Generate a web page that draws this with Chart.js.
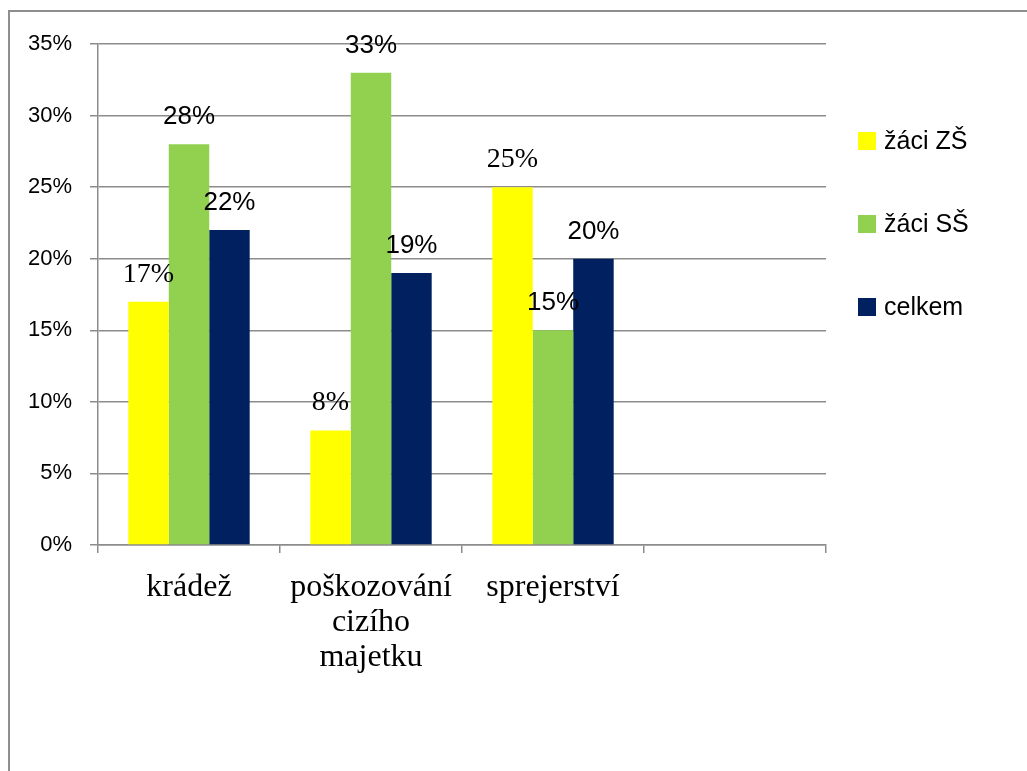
<!DOCTYPE html>
<html>
<head>
<meta charset="utf-8">
<script src="https://cdn.jsdelivr.net/npm/chart.js@4/dist/chart.umd.min.js"></script>
<style>
  html, body { margin: 0; padding: 0; background: #fff; overflow: hidden; }
  #wrap { position: relative; width: 1027px; height: 771px; }
  #frame { position: absolute; left: 8px; top: 10px; width: 1100px; height: 900px; border: 2px solid #8e8e8e; box-sizing: border-box; }
  canvas { position: absolute; left: 0; top: 0; }
</style>
</head>
<body>
<div id="wrap">
  <div id="frame"></div>
  <canvas id="c" width="1027" height="771"></canvas>
</div>
<script>
const categories = ['krádež', ['poškozování', 'cizího', 'majetku'], 'sprejerství', ''];
const seriesNames = ['žáci ZŠ', 'žáci SŠ', 'celkem'];
const zakiZS = [17, 8, 25, null];
const zakiSS = [28, 33, 15, null];
const celkem = [22, 19, 20, null];
const yTicks = [0, 5, 10, 15, 20, 25, 30, 35];

const colors = ['#FFFF00', '#92D050', '#002060'];
const labelFonts = ['28px "Liberation Serif"', '26px "Liberation Sans"', '26px "Liberation Sans"'];

const valueLabels = {
  id: 'valueLabels',
  afterDatasetsDraw(chart) {
    const ctx = chart.ctx;
    ctx.save();
    ctx.fillStyle = '#000';
    ctx.textAlign = 'center';
    ctx.textBaseline = 'alphabetic';
    chart.data.datasets.forEach((ds, i) => {
      const meta = chart.getDatasetMeta(i);
      ctx.font = labelFonts[i];
      meta.data.forEach((bar, j) => {
        const v = ds.data[j];
        if (v === null || v === undefined) return;
        ctx.fillText(v + '%', bar.x, bar.y - 20);
      });
    });
    ctx.restore();
  }
};

const sideLegend = {
  id: 'sideLegend',
  afterDraw(chart) {
    const ctx = chart.ctx;
    const area = chart.chartArea;
    ctx.save();
    ctx.font = '25px "Liberation Sans"';
    ctx.textBaseline = 'middle';
    ctx.textAlign = 'left';
    const boxX = area.right + 32;
    const startY = 141;
    const step = 83;
    chart.data.datasets.forEach((ds, i) => {
      const cy = startY + i * step;
      ctx.fillStyle = ds.backgroundColor;
      ctx.fillRect(boxX, cy - 9, 18, 18);
      ctx.fillStyle = '#000';
      ctx.fillText(ds.label, boxX + 26, cy + 1);
    });
    ctx.restore();
  }
};

new Chart(document.getElementById('c'), {
  type: 'bar',
  data: {
    labels: categories,
    datasets: [
      { label: seriesNames[0], data: zakiZS, backgroundColor: colors[0] },
      { label: seriesNames[1], data: zakiSS, backgroundColor: colors[1] },
      { label: seriesNames[2], data: celkem, backgroundColor: colors[2] }
    ]
  },
  options: {
    responsive: false,
    animation: false,
    devicePixelRatio: 1,
    datasets: { bar: { categoryPercentage: 0.667, barPercentage: 1.0, borderWidth: 0 } },
    layout: { padding: { top: 44, right: 201, bottom: 0, left: 0 } },
    plugins: {
      legend: { display: false },
      tooltip: { enabled: false }
    },
    scales: {
      x: {
        offset: true,
        grid: { display: true, offset: true, drawOnChartArea: false, drawTicks: true, tickLength: 8, color: '#8c8c8c', lineWidth: 1.5 },
        border: { display: true, color: '#8c8c8c', width: 1.5 },
        ticks: {
          color: '#000',
          padding: 17,
          maxRotation: 0,
          autoSkip: false,
          font: { family: '"Liberation Serif"', size: 32, lineHeight: 1.094 }
        },
        afterFit(scale) { scale.height = 771 - 545; }
      },
      y: {
        min: 0,
        max: 35,
        afterBuildTicks(scale) { scale.ticks = yTicks.map(v => ({ value: v })); },
        grid: { color: '#8c8c8c', lineWidth: 1.5, drawTicks: true, tickLength: 8 },
        border: { display: true, color: '#8c8c8c', width: 1.5 },
        ticks: {
          color: '#000',
          padding: 18,
          font: { family: '"Liberation Sans"', size: 22 },
          callback: (v) => v + '%'
        },
        afterFit(scale) { scale.width = 98; }
      }
    }
  },
  plugins: [valueLabels, sideLegend]
});
</script>
</body>
</html>
